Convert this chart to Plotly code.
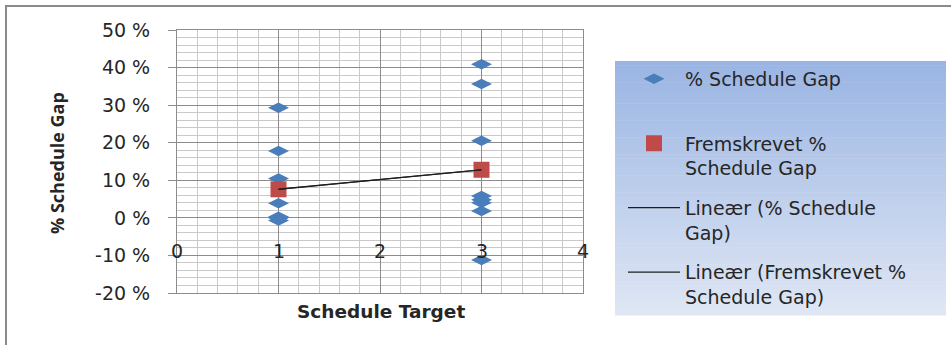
import numpy as np
import plotly.graph_objects as go

# Observed % schedule gap for each schedule target (several points overlap)
gap_target = [1, 1, 1, 1, 1, 1, 1, 1, 3, 3, 3, 3, 3, 3, 3, 3]
gap_pct = [29.3, 17.8, 10.5, 3.9, 0.3, -0.7, 0.0, 0.0,
           40.9, 35.6, 20.5, 5.8, 4.0, 4.8, 1.8, -11.2]

# Projected (fremskrevet) % schedule gap
proj_target = [1, 3]
proj_pct = [7.6, 12.8]

# Axis ticks
x_ticks = [0, 1, 2, 3, 4]
y_ticks = [-20, -10, 0, 10, 20, 30, 40, 50]
y_tick_text = ["-20 %", "-10 %", "0 %", "10 %", "20 %", "30 %", "40 %", "50 %"]

FONT = "DejaVu Sans"
TEXT = "#262626"
BLUE = "#4a7ebb"
RED = "#be4b48"
MAJOR = "#8c8c8c"
MINOR = "#c9c9c9"

# plot-area placement in pixels
W, H = 951, 345
PL, PR, PT, PB = 177, 583, 30, 293


def px_x(p):
    return (p - PL) / (PR - PL)


def px_y(p):
    return (PB - p) / (PB - PT)


def trend(xs, ys):
    k, b = np.polyfit(xs, ys, 1)
    xr = np.array([min(xs), max(xs)], dtype=float)
    return xr, k * xr + b


fig = go.Figure()

fig.add_trace(go.Scatter(
    x=gap_target, y=gap_pct, mode="markers", name="% Schedule Gap<br> ",
    legendgroup="a",
    marker=dict(symbol="diamond-wide", size=15, color=BLUE),
))
fig.add_trace(go.Scatter(
    x=proj_target, y=proj_pct, mode="markers",
    name="Fremskrevet %<br>Schedule Gap", legendgroup="b",
    marker=dict(symbol="square", size=16, color=RED),
))
tx, ty = trend(gap_target, gap_pct)
fig.add_trace(go.Scatter(
    x=tx, y=ty, mode="lines", name="Lineær (% Schedule<br>Gap)",
    legendgroup="c", line=dict(color="#1e1e1e", width=1.2),
))
tx2, ty2 = trend(proj_target, proj_pct)
fig.add_trace(go.Scatter(
    x=tx2, y=ty2, mode="lines",
    name="Lineær (Fremskrevet %<br>Schedule Gap)", legendgroup="d",
    line=dict(color="#1e1e1e", width=1.2),
))

shapes = []
# outer chart frame (runs off the right and bottom edges)
shapes.append(dict(
    type="rect", xref="paper", yref="paper",
    x0=px_x(6), x1=px_x(W + 20), y0=px_y(H + 20), y1=px_y(6),
    line=dict(color="#8a8a8a", width=2), layer="below",
))
# legend panel with a vertical blue gradient
top_c = np.array([154, 181, 227])
bot_c = np.array([223, 230, 244])
lg_l, lg_r, lg_t, lg_b = 615, 946, 61, 315
n = 60
for i in range(n):
    f = i / (n - 1)
    c = (top_c + (bot_c - top_c) * f).round().astype(int)
    y_a = lg_t + (lg_b - lg_t) * i / n
    y_b = lg_t + (lg_b - lg_t) * (i + 1) / n
    shapes.append(dict(
        type="rect", xref="paper", yref="paper",
        x0=px_x(lg_l), x1=px_x(lg_r), y0=px_y(y_b + 0.5), y1=px_y(y_a),
        line=dict(width=0), fillcolor=f"rgb({c[0]},{c[1]},{c[2]})",
        layer="below",
    ))

annotations = []
for t in x_ticks:
    annotations.append(dict(
        x=t, y=-8.8, xref="x", yref="y", text=str(t), showarrow=False,
        font=dict(family=FONT, size=19, color=TEXT),
        xanchor="center", yanchor="middle",
    ))
annotations.append(dict(
    x=px_x(381), y=px_y(311), xref="paper", yref="paper",
    text="<b>Schedule Target</b>",
    showarrow=False, font=dict(family=FONT, size=18.5, color=TEXT),
    xanchor="center", yanchor="middle",
))
annotations.append(dict(
    x=px_x(57), y=px_y(163), xref="paper", yref="paper", text="<b>% Schedule Gap</b>",
    showarrow=False, textangle=-90, font=dict(family="Open Sans", size=18, color=TEXT),
    xanchor="center", yanchor="middle",
))

fig.update_layout(
    width=W, height=H,
    margin=dict(l=PL, r=W - PR, t=PT, b=H - PB),
    paper_bgcolor="white", plot_bgcolor="white",
    showlegend=True,
    legend=dict(
        x=px_x(623), y=px_y(60), xanchor="left", yanchor="top",
        bgcolor="rgba(0,0,0,0)", borderwidth=0,
        font=dict(family=FONT, size=19, color=TEXT),
        traceorder="grouped", tracegroupgap=12, valign="top",
        itemwidth=52,
    ),
    shapes=shapes, annotations=annotations,
)

fig.update_xaxes(
    range=[0, 4], tickvals=x_ticks, showticklabels=False,
    showgrid=True, gridcolor=MAJOR, gridwidth=1,
    minor=dict(dtick=0.2, showgrid=True, gridcolor=MINOR, gridwidth=1),
    showline=True, linecolor=MAJOR, linewidth=1, mirror=True,
    zeroline=False, fixedrange=True,
)
fig.update_yaxes(
    range=[-20, 50], tickvals=y_ticks, ticktext=y_tick_text,
    showgrid=True, gridcolor=MAJOR, gridwidth=1,
    minor=dict(dtick=2, showgrid=True, gridcolor=MINOR, gridwidth=1),
    showline=True, linecolor=MAJOR, linewidth=1, mirror=True,
    ticks="outside", ticklen=8, tickcolor=MAJOR,
    ticklabelstandoff=14,
    tickfont=dict(family=FONT, size=19, color=TEXT),
    zeroline=False, fixedrange=True,
)

fig.write_html("out.html")
